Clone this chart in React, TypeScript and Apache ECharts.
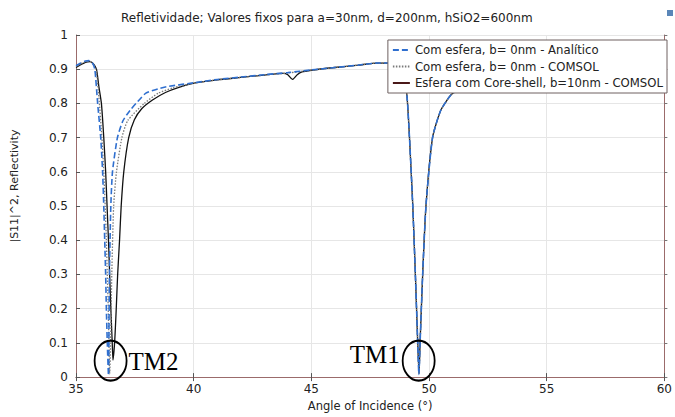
import { useEffect, useRef } from "react";
import * as echarts from "echarts";

const titleText = "Refletividade; Valores fixos para a=30nm, d=200nm, hSiO2=600nm";
const seriesNames = [
  "Com esfera, b= 0nm - Analítico",
  "Com esfera, b= 0nm - COMSOL",
  "Esfera com Core-shell, b=10nm - COMSOL",
];

// Analítico (blue dashed)
const angleA = [35.0, 35.2, 35.4, 35.55, 35.7, 35.8, 35.92, 36.05, 36.13, 36.18, 36.22, 36.26, 36.29, 36.33, 36.38, 36.42, 36.48, 36.55, 36.76, 37.0, 37.3, 37.55, 37.97, 38.5, 38.95, 40.07, 41.0, 42.0, 43.0, 44.0, 45.0, 46.0, 47.0, 47.8, 48.3, 48.7, 48.9, 49.06, 49.17, 49.31, 49.42, 49.52, 49.57, 49.62, 49.73, 49.87, 50.15, 50.5, 50.92, 51.2, 52.0, 53.0, 54.0, 56.0, 58.0, 60.0];
const reflA = [0.910, 0.918, 0.924, 0.925, 0.918, 0.900, 0.80, 0.70, 0.60, 0.50, 0.40, 0.30, 0.20, 0.10, 0.005, 0.30, 0.50, 0.60, 0.70, 0.75, 0.78, 0.80, 0.83, 0.843, 0.85, 0.861, 0.870, 0.877, 0.884, 0.890, 0.898, 0.905, 0.912, 0.918, 0.918, 0.905, 0.88, 0.824, 0.70, 0.50, 0.30, 0.10, 0.008, 0.10, 0.30, 0.50, 0.70, 0.78, 0.824, 0.838, 0.86, 0.875, 0.882, 0.885, 0.882, 0.878];

// COMSOL b=0 (gray dotted)
const angleB = [35.0, 35.2, 35.4, 35.6, 35.75, 35.85, 35.97, 36.1, 36.18, 36.24, 36.29, 36.33, 36.37, 36.4, 36.43, 36.47, 36.52, 36.6, 36.72, 36.95, 37.2, 37.9, 38.5, 39.1, 40.07, 41.0, 42.0, 43.0, 44.0, 45.0, 46.0, 47.0, 47.8, 48.3, 48.7, 48.9, 49.06, 49.17, 49.31, 49.42, 49.52, 49.575, 49.62, 49.73, 49.87, 50.15, 50.5, 50.92, 51.2, 52.0, 53.0, 54.0, 56.0, 58.0, 60.0];
const reflB = [0.908, 0.916, 0.922, 0.923, 0.912, 0.90, 0.82, 0.70, 0.60, 0.50, 0.40, 0.30, 0.20, 0.10, 0.01, 0.10, 0.30, 0.50, 0.60, 0.70, 0.75, 0.80, 0.83, 0.845, 0.86, 0.869, 0.876, 0.883, 0.889, 0.897, 0.905, 0.912, 0.918, 0.918, 0.905, 0.88, 0.824, 0.70, 0.50, 0.30, 0.10, 0.01, 0.10, 0.30, 0.50, 0.70, 0.78, 0.824, 0.838, 0.86, 0.875, 0.882, 0.885, 0.882, 0.878];

// Core-shell b=10nm (black solid)
const angleC = [35.0, 35.2, 35.4, 35.6, 35.75, 35.87, 35.97, 36.08, 36.18, 36.26, 36.32, 36.38, 36.43, 36.48, 36.54, 36.57, 36.64, 36.71, 36.77, 36.85, 36.92, 37.03, 37.24, 37.48, 37.8, 38.25, 38.8, 39.37, 40.07, 41.0, 42.0, 43.0, 43.8, 44.0, 44.2, 44.4, 44.6, 45.0, 46.0, 47.0, 47.8, 48.3, 48.7, 48.9, 49.06, 49.17, 49.31, 49.42, 49.52, 49.575, 49.62, 49.73, 49.87, 50.15, 50.5, 50.92, 51.2, 52.0, 53.0, 54.0, 56.0, 58.0, 60.0];
const reflC = [0.905, 0.913, 0.920, 0.922, 0.915, 0.90, 0.85, 0.80, 0.70, 0.60, 0.50, 0.40, 0.30, 0.20, 0.10, 0.05, 0.10, 0.20, 0.30, 0.40, 0.50, 0.60, 0.70, 0.752, 0.785, 0.81, 0.832, 0.847, 0.86, 0.869, 0.876, 0.883, 0.888, 0.884, 0.870, 0.884, 0.892, 0.897, 0.905, 0.912, 0.918, 0.918, 0.905, 0.88, 0.824, 0.70, 0.50, 0.30, 0.10, 0.01, 0.10, 0.30, 0.50, 0.70, 0.78, 0.824, 0.838, 0.86, 0.875, 0.882, 0.885, 0.882, 0.878];

// Annotations (angle, reflectivity, label)
const annotations = [
  { name: "TM2", angle: 36.47, value: 0.048, side: "right" },
  { name: "TM1", angle: 49.56, value: 0.048, side: "left" },
];

const zip = (xs: number[], ys: number[]) => xs.map((x, i) => [x, ys[i]]);

const FONT = "DejaVu Sans";
const FRAME = "#9b6b6b";

export default function App() {
  const ref = useRef<HTMLDivElement>(null);
  useEffect(() => {
    if (!ref.current) return;
    const chart = echarts.init(ref.current, undefined, { renderer: "svg" });
    const ellipse = "path://M0 1A1 1 0 1 1 2 1A1 1 0 1 1 0 1Z";
    chart.setOption({
      animation: false,
      backgroundColor: "#fff",
      textStyle: { fontFamily: FONT },
      title: {
        text: titleText,
        left: 121,
        top: 12,
        padding: 0,
        textStyle: { fontFamily: FONT, fontSize: 12, fontWeight: "normal", color: "#222" },
      },
      graphic: [
        { type: "rect", right: 2, top: 10, shape: { width: 6, height: 6 }, style: { fill: "#5a86b8" } },
      ],
      legend: {
        orient: "vertical",
        right: 8,
        top: 40,
        z: 10,
        padding: [3, 4, 3, 4],
        itemGap: 2.5,
        itemWidth: 17,
        itemHeight: 8,
        backgroundColor: "#fff",
        borderColor: "#6e6060",
        borderWidth: 1,
        borderRadius: 0,
        itemStyle: { color: "transparent", borderColor: "transparent", borderWidth: 0 },
        textStyle: { fontFamily: FONT, fontSize: 11.7, color: "#222", lineHeight: 14 },
        data: [
          { name: seriesNames[0] },
          { name: seriesNames[1] },
          { name: seriesNames[2], lineStyle: { color: "#4a1818" } },
        ],
      },
      grid: { left: 76, right: 5, top: 35, bottom: 30, show: false },
      xAxis: [
        {
          type: "value",
          min: 35,
          max: 60,
          interval: 5,
          name: "Angle of Incidence (°)",
          nameLocation: "middle",
          nameGap: 18,
          nameTextStyle: { fontFamily: FONT, fontSize: 11.5, color: "#222" },
          axisLine: { show: true, lineStyle: { color: FRAME, width: 1 } },
          axisTick: { show: true, inside: true, length: 4, lineStyle: { color: "#555" } },
          axisLabel: { fontFamily: FONT, fontSize: 12, color: "#222", margin: 6 },
          splitLine: { show: true, lineStyle: { color: "#e6e6e6", width: 1 } },
        },
        {
          type: "value",
          position: "top",
          min: 35,
          max: 60,
          interval: 5,
          axisLine: { show: true, lineStyle: { color: FRAME, width: 1 } },
          axisTick: { show: true, inside: true, length: 4, lineStyle: { color: "#555" } },
          axisLabel: { show: false },
          splitLine: { show: false },
        },
      ],
      yAxis: [
        {
          type: "value",
          min: 0,
          max: 1,
          interval: 0.1,
          name: "|S11|^2, Reflectivity",
          nameLocation: "middle",
          nameGap: 56,
          nameTextStyle: { fontFamily: FONT, fontSize: 11, color: "#222", padding: [0, 0, 0, 40] },
          axisLine: { show: true, lineStyle: { color: FRAME, width: 1 } },
          axisTick: { show: true, inside: true, length: 4, lineStyle: { color: "#555" } },
          axisLabel: { fontFamily: FONT, fontSize: 12, color: "#222", margin: 8 },
          splitLine: { show: true, lineStyle: { color: "#e6e6e6", width: 1 } },
        },
        {
          type: "value",
          position: "right",
          min: 0,
          max: 1,
          interval: 0.1,
          axisLine: { show: true, lineStyle: { color: FRAME, width: 1 } },
          axisTick: { show: true, inside: false, length: 3, lineStyle: { color: "#777" } },
          axisLabel: { show: false },
          splitLine: { show: false },
        },
      ],
      series: [
        {
          name: seriesNames[0],
          type: "line",
          data: zip(angleA, reflA),
          showSymbol: false,
          symbol: "none",
          smooth: 0.2,
          z: 4,
          lineStyle: { color: "#2f6fcf", width: 1.6, type: [6, 3] },
          itemStyle: { color: "#2f6fcf" },
          markPoint: {
            symbol: ellipse,
            symbolSize: [32, 40],
            silent: true,
            itemStyle: { color: "transparent", borderColor: "#000", borderWidth: 2 },
            label: {
              show: true,
              fontFamily: "Liberation Serif",
              fontSize: 25,
              color: "#000",
            },
            data: annotations.map((a) => ({
              name: a.name,
              coord: [a.angle, a.value],
              label: {
                formatter: a.name,
                position: a.side,
                distance: a.side === "right" ? 1 : 2,
                offset: [0, a.side === "right" ? 1 : -6],
              },
            })),
          },
        },
        {
          name: seriesNames[1],
          type: "line",
          data: zip(angleB, reflB),
          showSymbol: false,
          symbol: "none",
          smooth: 0.2,
          z: 3,
          lineStyle: { color: "#7a7a7a", width: 1.3, type: [1.5, 1.5] },
          itemStyle: { color: "#7a7a7a" },
        },
        {
          name: seriesNames[2],
          type: "line",
          data: zip(angleC, reflC),
          showSymbol: false,
          symbol: "none",
          smooth: 0.2,
          z: 2,
          lineStyle: { color: "#111", width: 1.3 },
          itemStyle: { color: "#111" },
        },
      ],
    });
    return () => chart.dispose();
  }, []);
  return (
    <div
      ref={ref}
      style={{ position: "fixed", left: 0, top: 0, width: 675, height: 417 }}
    />
  );
}
